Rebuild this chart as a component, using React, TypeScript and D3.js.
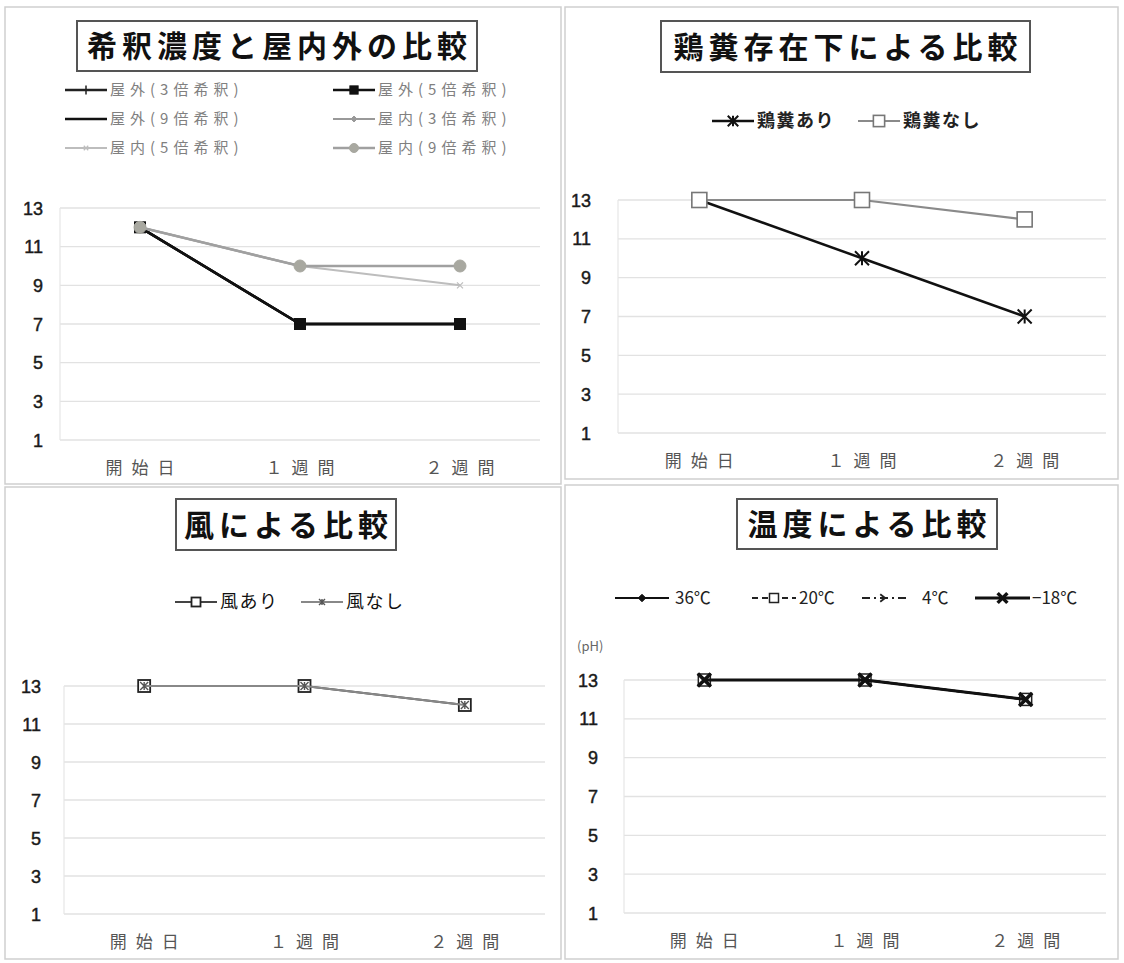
import React from 'react';
import * as d3 from 'd3';

// Shared axes
const categories = ['開始日', '１週間', '２週間'];
const yTicks = [1, 3, 5, 7, 9, 11, 13];

// 希釈濃度と屋内外の比較 (pH)
const outdoor3 = [12, 7, 7];
const outdoor5 = [12, 7, 7];
const outdoor9 = [12, 7, 7];
const indoor3 = [12, 10, 10];
const indoor5 = [12, 10, 9];
const indoor9 = [12, 10, 10];

// 鶏糞存在下による比較
const manureYes = [13, 10, 7];
const manureNo = [13, 13, 12];

// 風による比較
const windYes = [13, 13, 12];
const windNo = [13, 13, 12];

// 温度による比較
const temp36 = [13, 13, 12];
const temp20 = [13, 13, 12];
const temp4 = [13, 13, 12];
const tempMinus18 = [13, 13, 12];

type MarkerType = 'none' | 'plus' | 'square' | 'diamond' | 'circle' | 'x' | 'asterisk' | 'chevron';

interface Series {
  name: string;
  values: number[];
  color: string;
  width: number;
  dash?: string;
  marker: MarkerType;
  size: number;
  mFill: string;
  mStroke: string;
  mWidth: number;
}

const JP = '"Noto Sans CJK JP", "Noto Sans", sans-serif';
const NUM = '"Liberation Sans Narrow", "Liberation Sans", Arial, sans-serif';

function Marker({ s, x, y }: { s: Series; x: number; y: number }) {
  const h = s.size / 2;
  switch (s.marker) {
    case 'square':
      return <rect x={x - h} y={y - h} width={s.size} height={s.size} fill={s.mFill} stroke={s.mStroke} strokeWidth={s.mWidth} />;
    case 'circle':
      return <circle cx={x} cy={y} r={h} fill={s.mFill} stroke={s.mStroke} strokeWidth={s.mWidth} />;
    case 'diamond':
      return <path d={`M${x},${y - h}L${x + h},${y}L${x},${y + h}L${x - h},${y}Z`} fill={s.mFill} stroke={s.mStroke} strokeWidth={s.mWidth} />;
    case 'plus':
      return <path d={`M${x - h},${y}H${x + h}M${x},${y - h}V${y + h}`} stroke={s.mStroke} strokeWidth={s.mWidth} fill="none" />;
    case 'x':
      return <path d={`M${x - h},${y - h}L${x + h},${y + h}M${x - h},${y + h}L${x + h},${y - h}`} stroke={s.mStroke} strokeWidth={s.mWidth} fill="none" />;
    case 'asterisk':
      return <path d={`M${x - h},${y - h}L${x + h},${y + h}M${x - h},${y + h}L${x + h},${y - h}M${x},${y - h}V${y + h}`} stroke={s.mStroke} strokeWidth={s.mWidth} fill="none" />;
    case 'chevron':
      return <path d={`M${x - h},${y - h}L${x + h * 0.3},${y}L${x - h},${y + h}`} stroke={s.mStroke} strokeWidth={s.mWidth} fill="none" />;
    default:
      return null;
  }
}

interface LegendPos {
  x: number; // start of the legend key line
  y: number;
  len: number;
  gap?: number;
}

interface PanelProps {
  frame: { x: number; y: number; w: number; h: number };
  title: string;
  titleBox: { x: number; y: number; w: number; h: number };
  plot: { left: number; right: number; top: number; bottom: number };
  tickX: number;
  series: Series[];
  legend: LegendPos[];
  legendFont: { size: number; weight: string; color: string; spacing: number; family: string };
  unit?: { x: number; y: number; text: string };
}

function Panel(p: PanelProps) {
  const x = d3.scalePoint<string>().domain(categories).range([p.plot.left, p.plot.right]).padding(0.5);
  const y = d3.scaleLinear().domain([1, 13]).range([p.plot.bottom, p.plot.top]);
  const line = d3
    .line<number>()
    .x((_, i) => x(categories[i]) as number)
    .y((d) => y(d));
  const catLs = 9;
  return (
    <g>
      <rect x={p.frame.x} y={p.frame.y} width={p.frame.w} height={p.frame.h} fill="#fff" stroke="#cfcfcf" strokeWidth={1.5} />
      {/* title */}
      <rect x={p.titleBox.x} y={p.titleBox.y} width={p.titleBox.w} height={p.titleBox.h} fill="#fff" stroke="#555" strokeWidth={2} />
      <text
        x={p.titleBox.x + p.titleBox.w / 2 + 2.5}
        y={p.titleBox.y + p.titleBox.h / 2 + 11}
        textAnchor="middle"
        fontFamily={JP}
        fontWeight="bold"
        fontSize={30}
        letterSpacing={5}
        fill="#111"
      >
        {p.title}
      </text>
      {/* legend */}
      {p.series.map((s, i) => {
        const lp = p.legend[i];
        const mx = lp.x + lp.len / 2;
        return (
          <g key={'lg' + i}>
            <line x1={lp.x} x2={lp.x + lp.len} y1={lp.y} y2={lp.y} stroke={s.color} strokeWidth={s.width} strokeDasharray={s.dash} />
            <Marker s={{ ...s, size: s.size * 0.75 }} x={mx} y={lp.y} />
            <text
              x={lp.x + lp.len + (lp.gap ?? 3)}
              y={lp.y + p.legendFont.size * 0.36}
              fontFamily={p.legendFont.family}
              fontSize={p.legendFont.size}
              fontWeight={p.legendFont.weight}
              fill={p.legendFont.color}
              letterSpacing={p.legendFont.spacing}
            >
              {s.name}
            </text>
          </g>
        );
      })}
      {p.unit && (
        <text x={p.unit.x} y={p.unit.y} fontFamily={JP} fontSize={13} fill="#666">
          {p.unit.text}
        </text>
      )}
      {/* grid */}
      {yTicks.map((t) => (
        <g key={'g' + t}>
          <line x1={p.plot.left} x2={p.plot.right} y1={y(t)} y2={y(t)} stroke="#e2e2e2" strokeWidth={1.3} />
          <text
            x={p.tickX}
            y={y(t) + 6.5}
            textAnchor="end"
            fontFamily={NUM}
            fontSize={18}
            fill="#1a1a1a"
            stroke="#1a1a1a"
            strokeWidth={0.45}
          >
            {t}
          </text>
        </g>
      ))}
      <line x1={p.plot.left} x2={p.plot.left} y1={p.plot.top} y2={p.plot.bottom} stroke="#e6e6e6" strokeWidth={1.2} />
      {categories.map((c) => (
        <text
          key={c}
          x={(x(c) as number) + catLs / 2}
          y={p.plot.bottom + 34}
          textAnchor="middle"
          fontFamily={JP}
          fontSize={17}
          fill="#555"
          letterSpacing={catLs}
        >
          {c}
        </text>
      ))}
      {/* series */}
      {p.series.map((s, i) => (
        <g key={'s' + i}>
          <path d={line(s.values) ?? ''} fill="none" stroke={s.color} strokeWidth={s.width} strokeDasharray={s.dash} strokeLinejoin="round" />
          {s.values.map((v, j) => (
            <Marker key={j} s={s} x={x(categories[j]) as number} y={y(v)} />
          ))}
        </g>
      ))}
    </g>
  );
}

const dilutionSeries: Series[] = [
  { name: '屋外(3倍希釈)', values: outdoor3, color: '#222', width: 2.5, marker: 'plus', size: 12, mFill: 'none', mStroke: '#222', mWidth: 1.5 },
  { name: '屋外(5倍希釈)', values: outdoor5, color: '#111', width: 2.5, marker: 'square', size: 11, mFill: '#111', mStroke: '#111', mWidth: 1 },
  { name: '屋外(9倍希釈)', values: outdoor9, color: '#111', width: 2.5, marker: 'none', size: 0, mFill: 'none', mStroke: '#111', mWidth: 1 },
  { name: '屋内(3倍希釈)', values: indoor3, color: '#999', width: 2, marker: 'diamond', size: 8, mFill: '#999', mStroke: '#999', mWidth: 1 },
  { name: '屋内(5倍希釈)', values: indoor5, color: '#bdbdbd', width: 2, marker: 'x', size: 6, mFill: 'none', mStroke: '#bdbdbd', mWidth: 1.2 },
  { name: '屋内(9倍希釈)', values: indoor9, color: '#a0a0a0', width: 2.5, marker: 'circle', size: 12, mFill: '#a8a8a0', mStroke: '#a8a8a0', mWidth: 1 },
];

const manureSeries: Series[] = [
  { name: '鶏糞あり', values: manureYes, color: '#111', width: 2.5, marker: 'asterisk', size: 14, mFill: 'none', mStroke: '#111', mWidth: 2 },
  { name: '鶏糞なし', values: manureNo, color: '#8a8a8a', width: 2, marker: 'square', size: 15, mFill: '#fff', mStroke: '#777', mWidth: 1.6 },
];

const windSeries: Series[] = [
  { name: '風あり', values: windYes, color: '#444', width: 2.2, marker: 'square', size: 12, mFill: '#fff', mStroke: '#222', mWidth: 1.8 },
  { name: '風なし', values: windNo, color: '#888', width: 2, marker: 'asterisk', size: 8, mFill: 'none', mStroke: '#555', mWidth: 1.4 },
];

const tempSeries: Series[] = [
  { name: '36℃', values: temp36, color: '#111', width: 2, marker: 'diamond', size: 10, mFill: '#111', mStroke: '#111', mWidth: 1 },
  { name: '20℃', values: temp20, color: '#222', width: 2, dash: '6,4', marker: 'square', size: 12, mFill: '#fff', mStroke: '#222', mWidth: 1.5 },
  { name: '4℃', values: temp4, color: '#222', width: 2, dash: '8,4,2,4', marker: 'chevron', size: 10, mFill: 'none', mStroke: '#222', mWidth: 1.8 },
  { name: '−18℃', values: tempMinus18, color: '#111', width: 3.2, marker: 'x', size: 13, mFill: 'none', mStroke: '#111', mWidth: 3.5 },
];

export default function App() {
  return (
    <svg
      width={1124}
      height={963}
      viewBox="0 0 1124 963"
      style={{ position: 'absolute', left: 0, top: 0, background: '#fff' }}
    >
      <rect width={1124} height={963} fill="#fff" />
      <Panel
        frame={{ x: 5, y: 7, w: 556, h: 477 }}
        title="希釈濃度と屋内外の比較"
        titleBox={{ x: 77, y: 21, w: 400, h: 50 }}
        plot={{ left: 60, right: 540, top: 208, bottom: 440 }}
        tickX={43}
        series={dilutionSeries}
        legend={[
          { x: 65, y: 90, len: 42 },
          { x: 333, y: 90, len: 42 },
          { x: 65, y: 119, len: 42 },
          { x: 333, y: 119, len: 42 },
          { x: 65, y: 148, len: 42 },
          { x: 333, y: 148, len: 42 },
        ]}
        legendFont={{ size: 15, weight: 'normal', color: '#808080', spacing: 5, family: JP }}
      />
      <Panel
        frame={{ x: 565, y: 7, w: 553, h: 472 }}
        title="鶏糞存在下による比較"
        titleBox={{ x: 661, y: 21, w: 369, h: 51 }}
        plot={{ left: 618, right: 1106, top: 200, bottom: 433 }}
        tickX={591}
        series={manureSeries}
        legend={[
          { x: 712, y: 121, len: 42 },
          { x: 858, y: 121, len: 42 },
        ]}
        legendFont={{ size: 18, weight: 'bold', color: '#222', spacing: 1.5, family: JP }}
      />
      <Panel
        frame={{ x: 5, y: 487, w: 556, h: 472 }}
        title="風による比較"
        titleBox={{ x: 176, y: 499, w: 220, h: 51 }}
        plot={{ left: 64, right: 545, top: 686, bottom: 914 }}
        tickX={41}
        series={windSeries}
        legend={[
          { x: 175, y: 602, len: 42 },
          { x: 301, y: 602, len: 42 },
        ]}
        legendFont={{ size: 18, weight: 'normal', color: '#111', spacing: 1.5, family: JP }}
      />
      <Panel
        frame={{ x: 565, y: 485, w: 553, h: 474 }}
        title="温度による比較"
        titleBox={{ x: 737, y: 499, w: 260, h: 50 }}
        plot={{ left: 624, right: 1106, top: 680, bottom: 913 }}
        tickX={598}
        series={tempSeries}
        legend={[
          { x: 615, y: 598, len: 54, gap: 6 },
          { x: 752, y: 598, len: 44, gap: 3 },
          { x: 862, y: 598, len: 44, gap: 16 },
          { x: 975, y: 598, len: 55, gap: 2 },
        ]}
        legendFont={{ size: 17, weight: 'normal', color: '#222', spacing: 0, family: JP }}
        unit={{ x: 577, y: 651, text: '(pH)' }}
      />
    </svg>
  );
}
